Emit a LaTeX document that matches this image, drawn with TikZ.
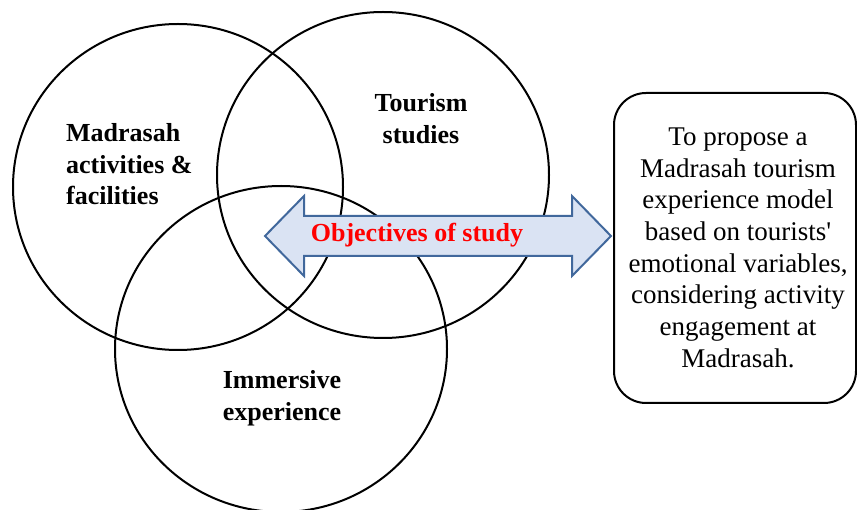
\documentclass[tikz,border=0pt]{standalone}
\usepackage{fontspec}
\setmainfont{Liberation Serif}
\definecolor{arrowfill}{HTML}{DAE3F3}
\definecolor{arrowline}{HTML}{41689C}
\begin{document}
\begin{tikzpicture}[x=1pt,y=-1pt,
  venn/.style={line width=2pt, draw=black},
  lbl/.style={inner sep=0pt, anchor=base, font=\bfseries\fontsize{26}{31.5}\selectfont},
  boxtxt/.style={inner sep=0pt, font=\fontsize{27}{31.7}\selectfont},
  goalbox/.style={draw=black, line width=2pt, rounded corners=32pt, inner sep=0pt, minimum width=242pt, minimum height=310pt},
  dblarrow/.style={draw=arrowline, fill=arrowfill, line width=2pt, line join=miter}]
\useasboundingbox (0,0) rectangle (857,510);
\clip (0,0) rectangle (857,510);
% Venn circles
\coordinate (cA) at (178,187);
\coordinate (cB) at (383,175);
\coordinate (cC) at (281,349);
\draw[venn] (cA) ellipse [x radius=165pt, y radius=163pt];
\draw[venn] (cB) ellipse [x radius=166pt, y radius=163pt];
\draw[venn] (cC) ellipse [x radius=166pt, y radius=163pt];
% double arrow
\draw[dblarrow] (265,236) -- (304,196) -- (304,216) -- (572,216) -- (572,196) -- (611,236)
  -- (572,276) -- (572,256) -- (304,256) -- (304,276) -- cycle;
\node[inner sep=0pt, anchor=base, text=red, font=\bfseries\fontsize{26}{31}\selectfont] (obj) at (417,242) {Objectives of study};
% labels
\node[lbl, anchor=base west] (mad) at (66,142) {\begin{tabular}[t]{@{}l@{}}Madrasah\\activities \&\\facilities\end{tabular}};
\node[lbl] (tour) at (421,112) {\begin{tabular}[t]{@{}c@{}}Tourism\\studies\end{tabular}};
\node[lbl] (imm) at (282,389) {\begin{tabular}[t]{@{}c@{}}Immersive\\experience\end{tabular}};
% goal box
\node[goalbox] (goal) at (735,248) {};
\node[boxtxt] (goaltxt) at (738,250) {\begin{tabular}{@{}c@{}}To propose a\\Madrasah tourism\\experience model\\based on tourists\textquotesingle\\emotional variables,\\considering activity\\engagement at\\Madrasah.\end{tabular}};
\end{tikzpicture}
\end{document}
